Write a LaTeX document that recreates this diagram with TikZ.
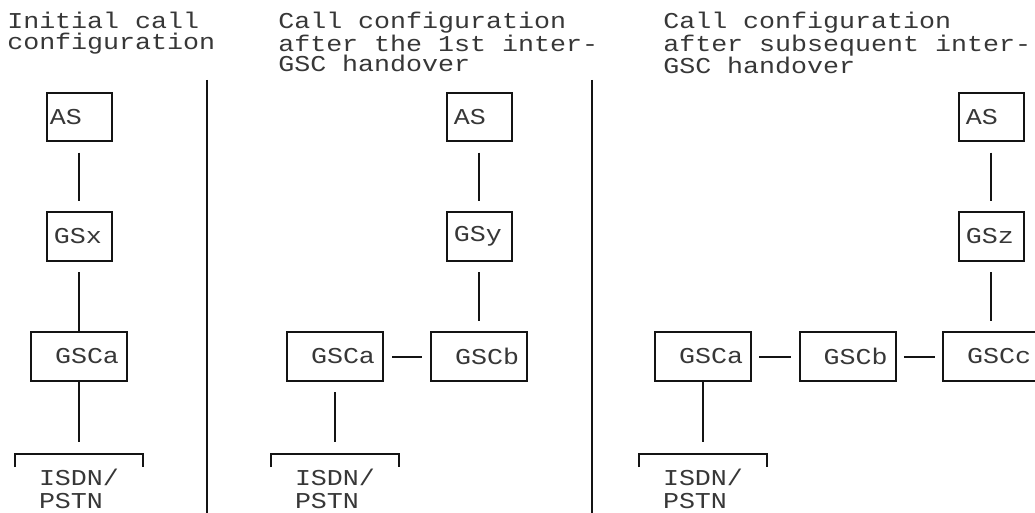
\documentclass[tikz,border=0pt]{standalone}
\usepackage{fontspec}
\newfontfamily\asciifont[FakeStretch=1.176]{Liberation Mono}
\usepackage{tikz}
\usetikzlibrary{arrows.meta, calc}
\usepackage{xcolor}
\definecolor{inkline}{RGB}{20,20,20}
\definecolor{inktext}{RGB}{55,55,55}

\tikzset{
  title/.style={anchor=north west, inner sep=0pt, align=left, text=inktext,
    font=\asciifont\fontsize{17pt}{15.4pt}\selectfont},
  smallbox/.style={draw=inkline, line width=1.5pt, minimum height=36.5pt,
    inner xsep=5.5pt, text width=37.75pt, align=left, text=inktext,
    font=\asciifont\fontsize{17pt}{15.4pt}\selectfont},
  gscbox/.style={draw=inkline, line width=1.5pt, minimum height=36.5pt,
    inner xsep=6pt, text width=60pt, align=right, text=inktext,
    font=\asciifont\fontsize{17pt}{15.4pt}\selectfont},
  isdn/.style={anchor=north, minimum width=96pt, text width=60pt, inner ysep=11pt,
    align=left, text=inktext, font=\asciifont\fontsize{17pt}{17pt}\selectfont},
  link/.style={inkline, line width=1.5pt, shorten <=7.75pt, shorten >=7.75pt},
  sep/.style={inkline, line width=1.5pt}
}

\begin{document}
\begin{tikzpicture}[x=0.75pt, y=-0.75pt]
  \useasboundingbox (0,0) rectangle (1035,513);

  % titles
  \node[title] (title1) at (7,12) {Initial call\\configuration};
  \node[title] (title2) at (278,12) {Call configuration\\after the 1st inter-\\GSC handover};
  \node[title] (title3) at (663,12) {Call configuration\\after subsequent inter-\\GSC handover};

  % separators
  \draw[sep] (207,80) -- (207,513);
  \draw[sep] (592,80) -- (592,513);

  % initial configuration
  \node[smallbox, inner xsep=2.5pt, text width=43.75pt] (as1) at (79,117) {AS};
  \node[smallbox] (gs1) at (79,236.5) {GSx};
  \node[gscbox] (gsca1) at (79,356.5) {GSCa};
  \node[isdn] (isdn1) at (79,454) {ISDN/\\PSTN};
  \draw[link] (as1) -- (gs1);
  \draw[link, shorten >=0pt] (gs1) -- (gsca1);
  \draw[link, shorten <=0pt, shorten >=9pt] (gsca1) -- (isdn1.north);

  % after the 1st handover
  \node[smallbox] (as2) at (479,117) {AS};
  \node[smallbox] (gs2) at (479,236.5) {GSy};
  \node[gscbox] (gsca2) at (335,356.5) {GSCa};
  \node[gscbox] (gscb2) at (479,356.5) {GSCb};
  \node[isdn] (isdn2) at (335,454) {ISDN/\\PSTN};
  \draw[link] (as2) -- (gs2);
  \draw[link] (gs2) -- (gscb2);
  \draw[link, shorten <=6pt, shorten >=6pt] (gsca2) -- (gscb2);
  \draw[link, shorten >=9pt] (gsca2) -- (isdn2.north);

  % after subsequent handover
  \node[smallbox] (as3) at (991,117) {AS};
  \node[smallbox] (gs3) at (991,236.5) {GSz};
  \node[gscbox] (gsca3) at (703,356.5) {GSCa};
  \node[gscbox] (gscb3) at (847.5,356.5) {GSCb};
  \node[gscbox] (gscc3) at (991,356.5) {GSCc};
  \node[isdn] (isdn3) at (703,454) {ISDN/\\PSTN};
  \draw[link] (as3) -- (gs3);
  \draw[link] (gs3) -- (gscc3);
  \draw[link, shorten <=5.5pt, shorten >=5.5pt] (gsca3) -- (gscb3);
  \draw[link, shorten <=5.5pt, shorten >=5.5pt] (gscb3) -- (gscc3);
  \draw[link, shorten <=0pt, shorten >=9pt] (gsca3) -- (isdn3.north);

  % brackets over ISDN/PSTN
  \foreach \n in {isdn1,isdn2,isdn3}
    \draw[sep] ([yshift=-9.75pt]\n.north west) -- (\n.north west) -- (\n.north east) -- ([yshift=-9.75pt]\n.north east);
\end{tikzpicture}
\end{document}
